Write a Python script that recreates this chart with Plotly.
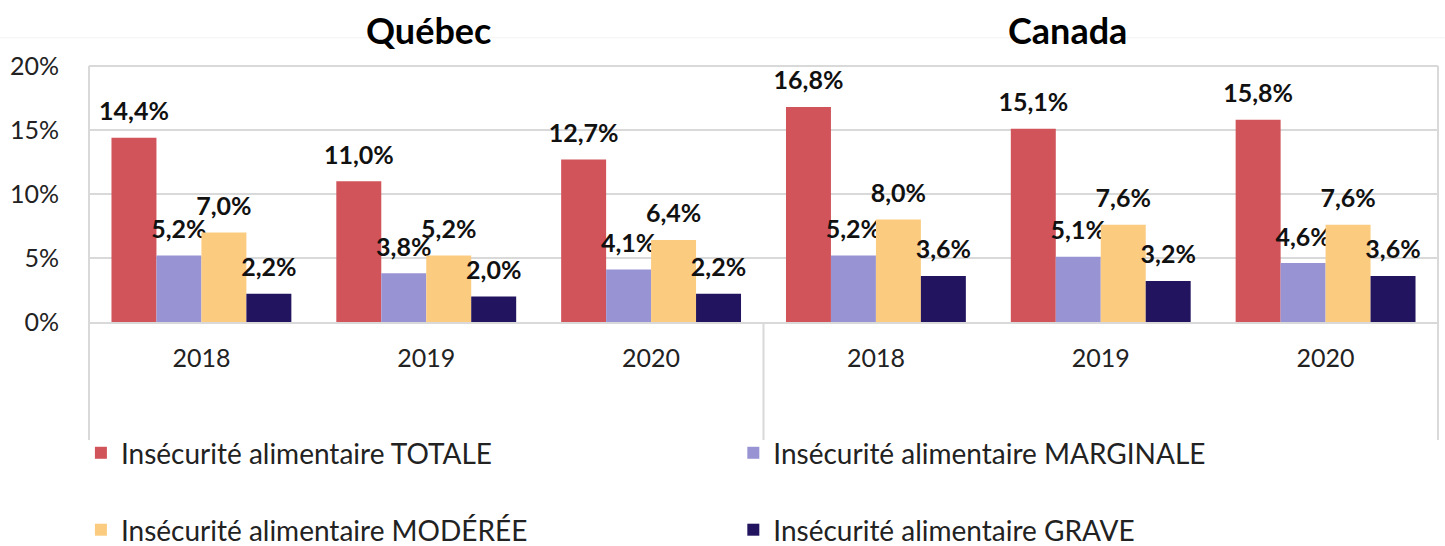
import plotly.graph_objects as go

regions = ["Québec", "Canada"]
years = ["2018", "2019", "2020"]
series_names = [
    "Insécurité alimentaire TOTALE",
    "Insécurité alimentaire MARGINALE",
    "Insécurité alimentaire MODÉRÉE",
    "Insécurité alimentaire GRAVE",
]
totale = [14.4, 11.0, 12.7, 16.8, 15.1, 15.8]
marginale = [5.2, 3.8, 4.1, 5.2, 5.1, 4.6]
moderee = [7.0, 5.2, 6.4, 8.0, 7.6, 7.6]
grave = [2.2, 2.0, 2.2, 3.6, 3.2, 3.6]
colors = ["#D1545A", "#9894D3", "#FBCB80", "#22145F"]
y_ticks = [0, 5, 10, 15, 20]
y_tick_text = ["0%", "5%", "10%", "15%", "20%"]

cats = [f"{r} {y}" for r in regions for y in years]
tick_text = [y for r in regions for y in years]

LABEL_PAD = 0.75  # gap (in %-units) between bar top and its label

fig = go.Figure()
all_vals = [totale, marginale, moderee, grave]
legends = ["legend", "legend", "legend2", "legend2"]
for i, (name, vals, col, lg) in enumerate(zip(series_names, all_vals, colors, legends)):
    grp = f"g{i}"
    fig.add_trace(go.Bar(
        x=cats, y=vals, name=name, marker=dict(color=col, line=dict(width=0)),
        offsetgroup=grp, legend=lg, hoverinfo="y+name",
    ))
    # invisible carrier bar that lifts each value label a little above its bar
    fig.add_trace(go.Bar(
        x=cats, y=[LABEL_PAD] * len(vals), base=vals, offsetgroup=grp,
        marker=dict(color="rgba(0,0,0,0)", line=dict(width=0)),
        text=[f"{v:.1f}%".replace(".", ",") for v in vals],
        textposition="outside", cliponaxis=False, constraintext="none",
        textfont=dict(family="Lato", size=25, color="#111111", weight="bold"),
        showlegend=False, hoverinfo="skip",
    ))

grid = "#d9d9d9"
legend_common = dict(orientation="h", xanchor="left", yanchor="middle",
                     entrywidth=0.4537, entrywidthmode="fraction",
                     font=dict(family="Lato", size=28, color="#222222"),
                     itemwidth=30, bgcolor="rgba(0,0,0,0)")
fig.update_layout(
    width=1445, height=546,
    margin=dict(l=89, r=7, t=66, b=224, autoexpand=False),
    paper_bgcolor="white", plot_bgcolor="white",
    barmode="group", bargap=0.2, bargroupgap=0,
    font=dict(family="Lato", color="#222222"),
    showlegend=True,
    legend=dict(x=-0.006, y=-0.512, **legend_common),
    legend2=dict(x=-0.006, y=-0.8125, **legend_common),
    xaxis=dict(type="category", tickvals=cats, ticktext=tick_text,
               tickfont=dict(family="Lato", size=25, color="#222222"),
               ticks="outside", ticklen=13, tickcolor="rgba(0,0,0,0)",
               showline=True, linecolor=grid, linewidth=2, showgrid=False,
               fixedrange=True),
    yaxis=dict(range=[0, 20], tickvals=y_ticks, ticktext=y_tick_text,
               tickfont=dict(family="Lato", size=25, color="#222222"),
               ticks="outside", ticklen=24, tickcolor="rgba(0,0,0,0)",
               showgrid=True, gridcolor=grid, gridwidth=2, zeroline=False,
               showline=False, fixedrange=True),
    annotations=[
        dict(text="<b>Québec</b>", x=0.2514, y=1.14, xref="paper", yref="paper",
             xanchor="center", yanchor="middle",
             showarrow=False, font=dict(family="Lato", size=36, color="#000000")),
        dict(text="<b>Canada</b>", x=0.725, y=1.14, xref="paper", yref="paper",
             xanchor="center", yanchor="middle",
             showarrow=False, font=dict(family="Lato", size=36, color="#000000")),
    ],
    shapes=[
        dict(type="line", xref="paper", yref="paper", x0=0, x1=0, y0=-0.461, y1=1,
             line=dict(color=grid, width=2)),
        dict(type="line", xref="paper", yref="paper", x0=1, x1=1, y0=-0.461, y1=1,
             line=dict(color=grid, width=2)),
        dict(type="line", xref="paper", yref="paper", x0=0, x1=1, y0=1, y1=1,
             line=dict(color=grid, width=2)),
        dict(type="line", xref="x", yref="paper", x0=2.5, x1=2.5, y0=-0.461, y1=0,
             line=dict(color=grid, width=2)),
        dict(type="line", xref="paper", yref="paper", x0=-0.066, x1=1.005, y0=1.11, y1=1.11,
             line=dict(color="#f2f2f2", width=1)),
    ],
)

fig.write_html(
    "out.html",
    config={"displayModeBar": False},
    post_script="document.body.style.margin='0';document.body.style.overflow='hidden';",
)
